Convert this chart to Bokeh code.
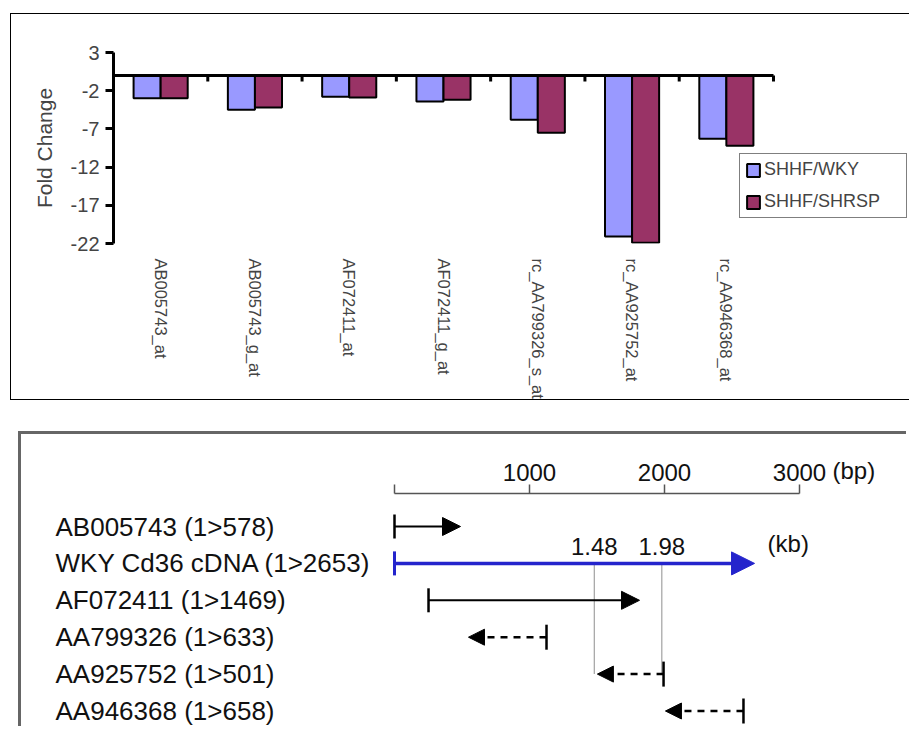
import math
from bokeh.plotting import figure
from bokeh.core.properties import value
from bokeh.models import (Range1d, FixedTicker, Legend, LegendItem, LabelSet, Label,
                          Arrow, NormalHead, TeeHead, LinearAxis, ColumnDataSource)
from bokeh.transform import dodge
from bokeh.embed import file_html
from bokeh.resources import INLINE

# ---------------- data: top panel ----------------
categories = ["AB005743_at", "AB005743_g_at", "AF072411_at", "AF072411_g_at",
              "rc_AA799326_s_at", "rc_AA925752_at", "rc_AA946368_at"]
shhf_wky = [-3.0, -4.5, -2.8, -3.4, -5.8, -21.1, -8.3]
shhf_shrsp = [-3.0, -4.2, -2.9, -3.2, -7.5, -21.9, -9.2]
y_ticks = [3, -2, -7, -12, -17, -22]

# ---------------- data: bottom panel ----------------
row_labels = ["AB005743 (1>578)", "WKY Cd36 cDNA (1>2653)", "AF072411 (1>1469)",
              "AA799326 (1>633)", "AA925752 (1>501)", "AA946368 (1>658)"]
row_start_bp = [0, 0, 252, 1126, 1993, 2585]      # end with the bar
row_tip_bp = [489, 2667, 1815, 548, 1503, 2007]   # end with the arrow head
row_kind = ["solid", "cdna", "solid", "dashed", "dashed", "dashed"]
scale_ticks = [0, 1000, 2000, 3000]
kb_marks = [1.48, 1.98]

FONT = "Liberation Sans"
BLUE = "#9999FF"
MAROON = "#993366"

# ================= top panel =================
n = len(categories)
W1 = 899
LEFT1 = 102
cat_w = 660
p1 = figure(width=W1, height=387, output_backend="svg", toolbar_location=None,
            x_range=Range1d(0, n * (W1 - LEFT1) / cat_w), y_range=Range1d(-22, 3),
            min_border_left=LEFT1, min_border_right=0, min_border_top=38,
            min_border_bottom=158)
p1.grid.visible = False
p1.outline_line_color = None
p1.background_fill_color = "white"
p1.margin = (13, 0, 0, 10)
p1.styles = {"border-left": "1.5px solid #000", "border-top": "1.5px solid #000",
             "border-bottom": "1.5px solid #000"}

centers = [i + 0.5 for i in range(n)]
src = ColumnDataSource(dict(x=centers, wky=shhf_wky, shrsp=shhf_shrsp))
bw = 0.287
r_wky = p1.vbar(x=dodge("x", -bw / 2, range=p1.x_range), top="wky", bottom=0, width=bw,
                source=src, fill_color=BLUE, line_color="black", line_width=2)
r_shrsp = p1.vbar(x=dodge("x", bw / 2, range=p1.x_range), top="shrsp", bottom=0, width=bw,
                  source=src, fill_color=MAROON, line_color="black", line_width=2)

# zero line with category boundary ticks
p1.segment(x0=[0], y0=[0], x1=[n], y1=[0], line_color="black", line_width=3)
p1.ray(x=[i + 1 for i in range(n)], y=[0] * n, length=6, length_units="screen",
       angle=-math.pi / 2, line_color="black", line_width=3)

ya = p1.yaxis[0]
ya.ticker = FixedTicker(ticks=y_ticks)
ya.major_label_overrides = {t: str(t) for t in y_ticks}
ya.axis_line_width = 3
ya.major_tick_line_width = 3
ya.major_tick_out = 8
ya.major_tick_in = 0
ya.minor_tick_line_color = None
ya.major_label_text_font = FONT
ya.major_label_text_font_size = "20px"
ya.major_label_standoff = 6
ya.axis_label = "Fold Change"
ya.axis_label_text_font = FONT
ya.axis_label_text_font_size = "21px"
ya.axis_label_text_font_style = "normal"
ya.axis_label_standoff = 12

xa = p1.xaxis[0]
xa.ticker = FixedTicker(ticks=centers)
xa.major_label_overrides = {c: lab for c, lab in zip(centers, categories)}
xa.major_label_orientation = -math.pi / 2
xa.axis_line_color = None
xa.major_tick_line_color = None
xa.major_tick_out = 0
xa.major_tick_in = 0
xa.minor_tick_line_color = None
xa.minor_tick_out = 0
xa.major_label_standoff = 15
xa.major_label_text_font = FONT
xa.major_label_text_font_size = "16.5px"

legend = Legend(items=[LegendItem(label="SHHF/WKY", renderers=[r_wky]),
                       LegendItem(label="SHHF/SHRSP", renderers=[r_shrsp])],
                location=(626, 25), padding=5, spacing=11,
                glyph_width=16, glyph_height=16, label_standoff=3, label_width=137,
                label_text_font=FONT, label_text_font_size="18px",
                border_line_color="black", border_line_width=1,
                background_fill_color="white", background_fill_alpha=1.0)
p1.add_layout(legend)

# ================= bottom panel =================
px_per_bp = 0.135
x0_page = 394
row0_px, row_px = 526, 36.9
top2, left2 = 434, 21
W2, H2 = 888, 295
p2 = figure(width=W2, height=H2, output_backend="svg", toolbar_location=None,
            x_range=Range1d((left2 - x0_page) / px_per_bp, (left2 + W2 - x0_page) / px_per_bp),
            y_range=Range1d((top2 + H2 - row0_px) / row_px, (top2 - row0_px) / row_px),
            x_axis_location=None, y_axis_location=None,
            min_border_left=0, min_border_right=0, min_border_top=0, min_border_bottom=0)
p2.grid.visible = False
p2.outline_line_color = None
p2.margin = (31, 0, 0, 18)
p2.styles = {"border-left": "3px solid #666", "border-top": "3px solid #666"}

scale_y = (493 - row0_px) / row_px
sa = LinearAxis(ticker=FixedTicker(ticks=scale_ticks), bounds=(scale_ticks[0], scale_ticks[-1]),
                major_label_overrides={scale_ticks[0]: ""}, fixed_location=scale_y)
sa.axis_line_color = "#555"
sa.axis_line_width = 1.5
sa.major_tick_line_color = "#555"
sa.major_tick_line_width = 1.5
sa.major_tick_out = 9
sa.major_tick_in = 0
sa.minor_tick_line_color = None
sa.major_label_standoff = 4
sa.major_label_text_font = FONT
sa.major_label_text_font_size = "24px"
sa.major_label_text_color = "#111"
p2.add_layout(sa, "above")

p2.add_layout(Label(x=scale_ticks[-1], y=scale_y, x_offset=33, y_offset=23,
                    text="(bp)", text_font=FONT, text_font_size="24px",
                    text_align="left", text_baseline="middle", text_color="#111"))

rows = list(range(len(row_labels)))
p2.add_layout(LabelSet(x=34, x_units="screen", y="y", text="t",
                       source=ColumnDataSource(dict(y=rows, t=row_labels)),
                       text_font=value(FONT), text_font_size=value("26px"),
                       text_baseline="middle", text_align="left", text_color="#111"))

# dotted guide lines at 1.48 / 1.98 kb
cdna_row = row_kind.index("cdna")
target_row = 4
kb_bp = [k * 1000 for k in kb_marks]
p2.segment(x0=kb_bp, x1=kb_bp, y0=[cdna_row] * 2, y1=[target_row] * 2,
           line_color="#444", line_width=1.2, line_dash="1 1")
p2.add_layout(LabelSet(x="x", y="y", text="t", y_offset=17,
                       source=ColumnDataSource(dict(x=kb_bp, y=[cdna_row] * 2,
                                                    t=["%.2f" % k for k in kb_marks])),
                       text_font=value(FONT), text_font_size=value("24px"),
                       text_align="center", text_baseline="middle", text_color="#111"))
p2.add_layout(Label(x=row_tip_bp[cdna_row], y=cdna_row, x_offset=13, y_offset=20,
                    text="(kb)", text_font=FONT, text_font_size="24px",
                    text_align="left", text_baseline="middle", text_color="#111"))


def sub(kind):
    idx = [i for i, k in enumerate(row_kind) if k == kind]
    return ColumnDataSource(dict(xs=[row_start_bp[i] for i in idx],
                                 xe=[row_tip_bp[i] for i in idx],
                                 y=[rows[i] for i in idx]))


p2.add_layout(Arrow(x_start="xs", y_start="y", x_end="xe", y_end="y", source=sub("solid"),
                    line_color="black", line_width=2,
                    start=TeeHead(size=24, line_width=2.5, line_color="black"),
                    end=NormalHead(size=18, fill_color="black", line_color="black")))
p2.add_layout(Arrow(x_start="xs", y_start="y", x_end="xe", y_end="y", source=sub("cdna"),
                    line_color="#2424CC", line_width=3.5,
                    start=TeeHead(size=24, line_width=3, line_color="#2424CC"),
                    end=NormalHead(size=23, fill_color="#2424CC", line_color="#2424CC")))
p2.add_layout(Arrow(x_start="xs", y_start="y", x_end="xe", y_end="y", source=sub("dashed"),
                    line_color="black", line_width=2.5, line_dash="7 6",
                    start=TeeHead(size=25, line_width=2.5, line_color="black"),
                    end=NormalHead(size=16, fill_color="black", line_color="black")))

open("out.html", "w").write(file_html([p1, p2], INLINE))
